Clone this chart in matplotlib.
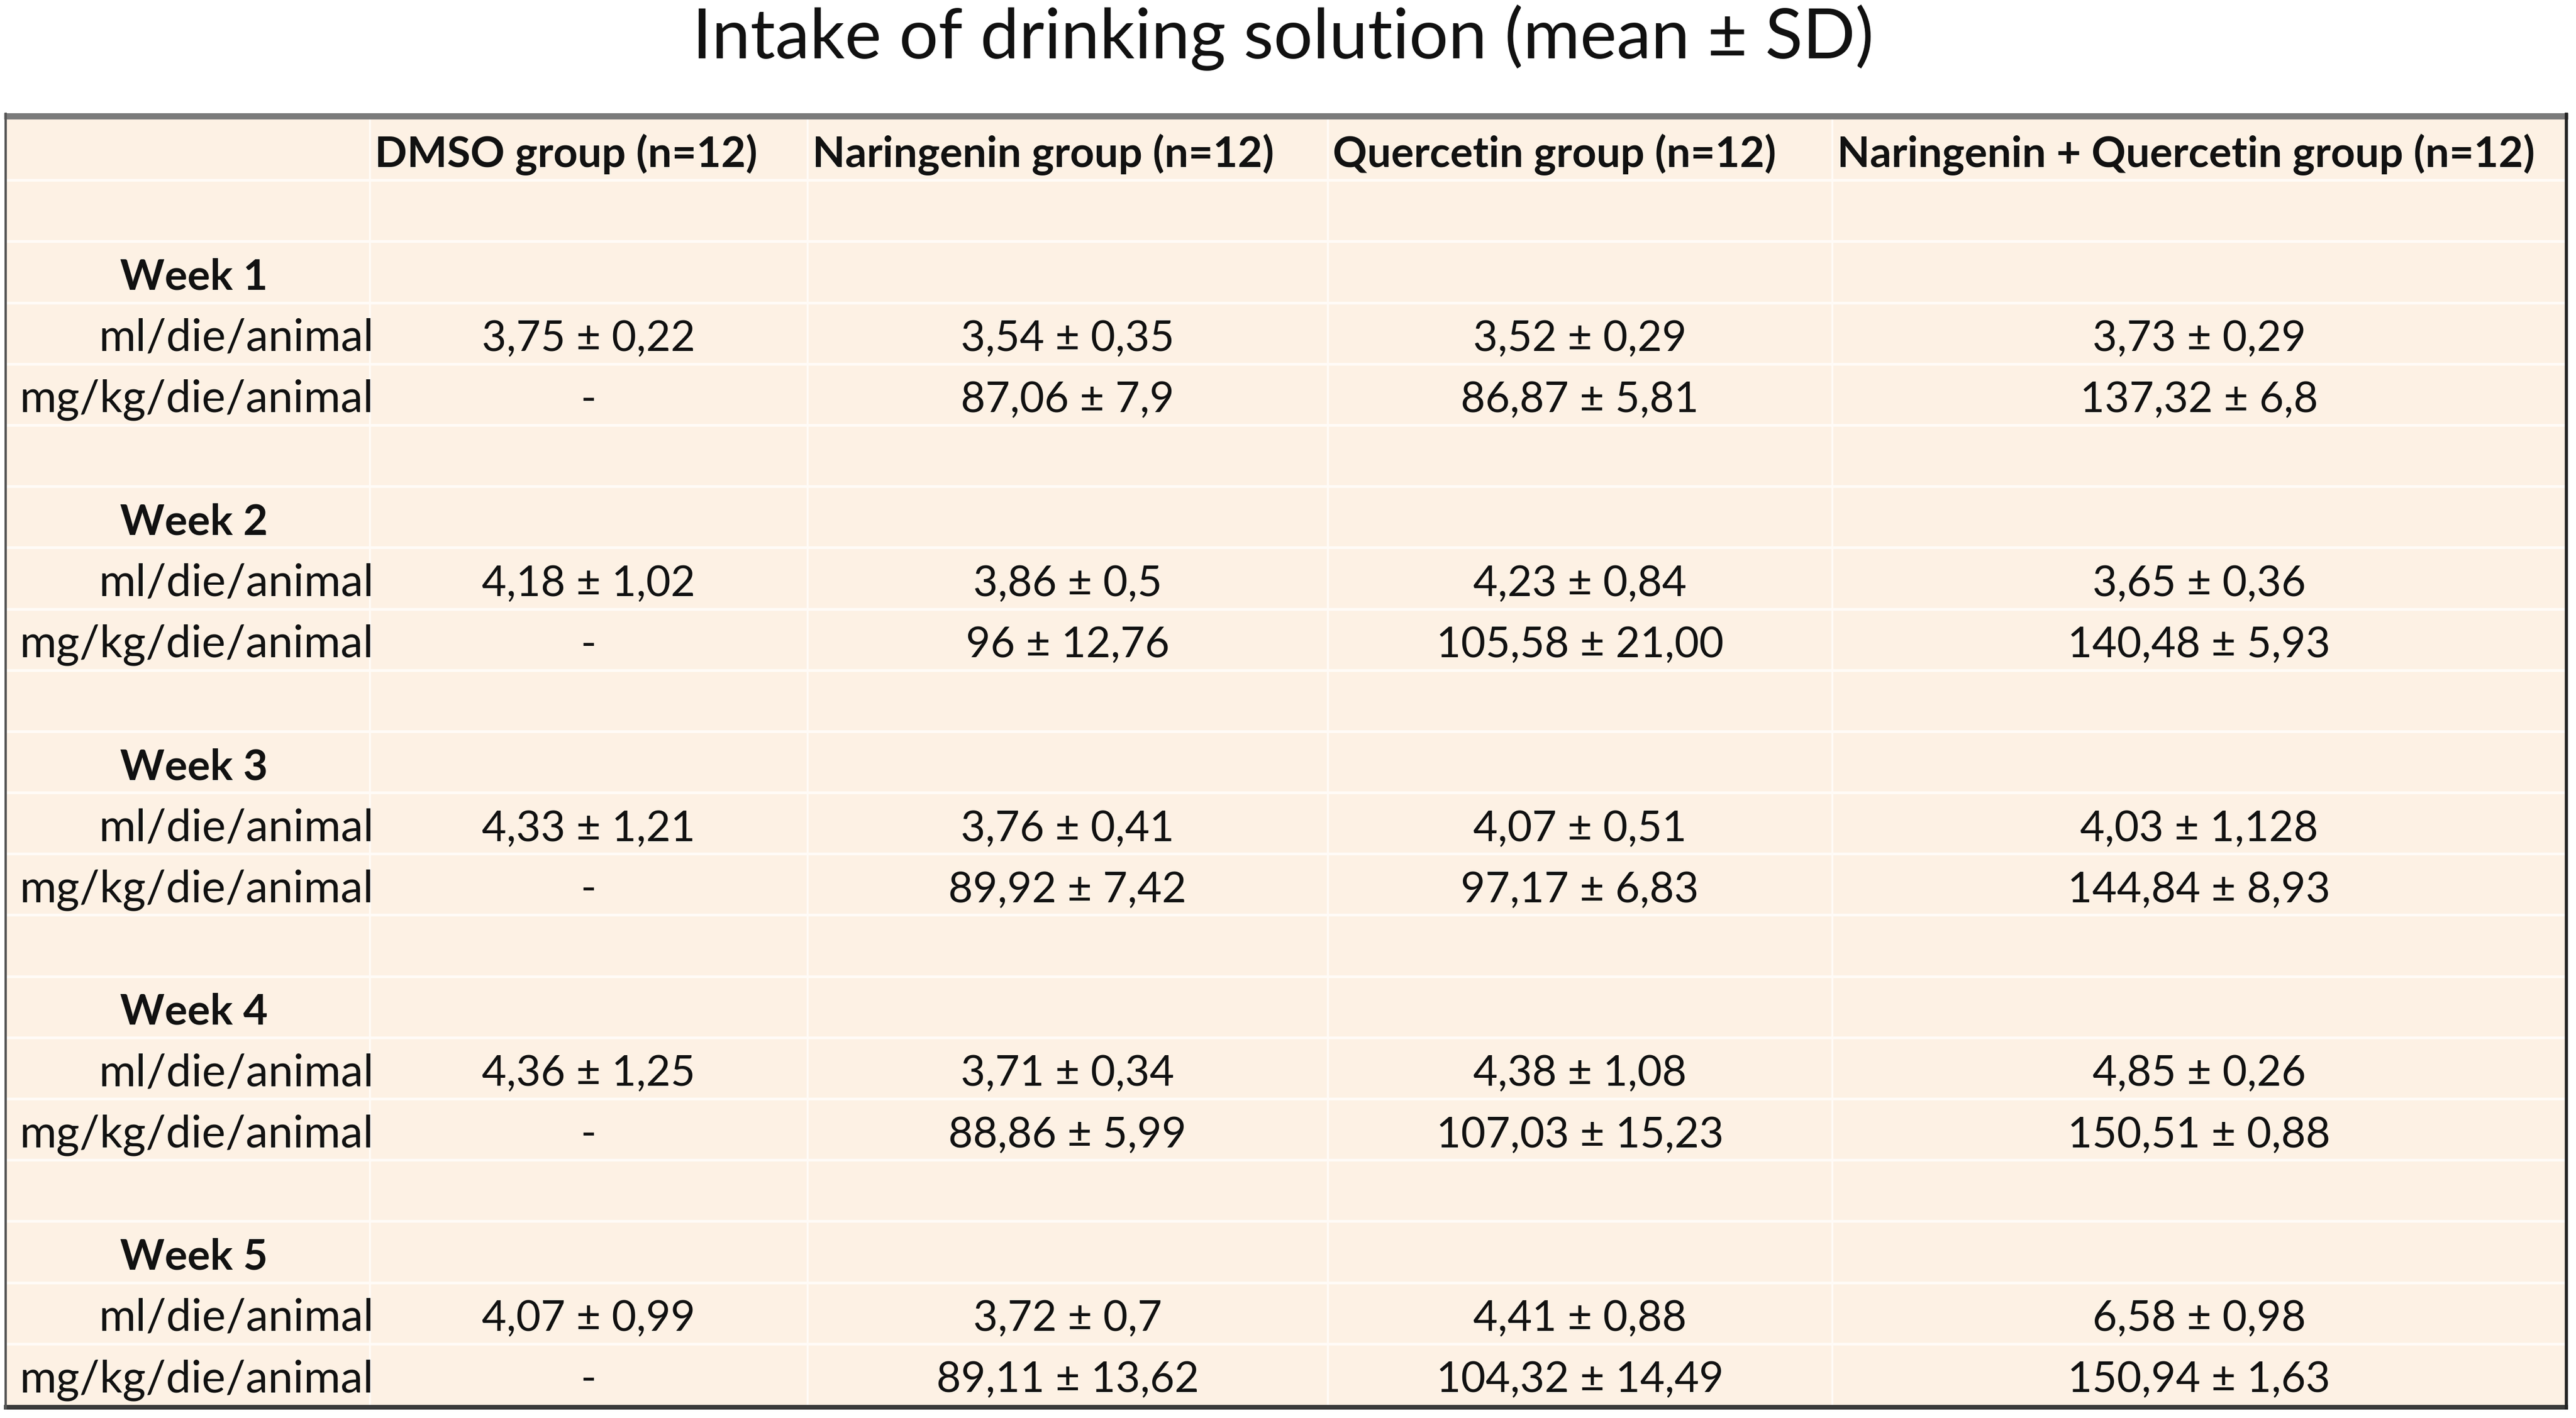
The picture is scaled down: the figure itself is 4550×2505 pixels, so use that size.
import matplotlib
matplotlib.use("Agg")
import matplotlib.pyplot as plt
from matplotlib.patches import Rectangle

plt.rcParams['font.family'] = ['Lato', 'DejaVu Sans']

# ---------------- data ----------------
title = "Intake of drinking solution (mean ± SD)"
groups = ["DMSO group (n=12)", "Naringenin group (n=12)",
          "Quercetin group (n=12)", "Naringenin + Quercetin group (n=12)"]
weeks = ["Week 1", "Week 2", "Week 3", "Week 4", "Week 5"]
row_units = ["ml/die/animal", "mg/kg/die/animal"]

ml_mean_dmso = ["3,75", "4,18", "4,33", "4,36", "4,07"]
ml_sd_dmso = ["0,22", "1,02", "1,21", "1,25", "0,99"]
ml_mean_nar = ["3,54", "3,86", "3,76", "3,71", "3,72"]
ml_sd_nar = ["0,35", "0,5", "0,41", "0,34", "0,7"]
ml_mean_que = ["3,52", "4,23", "4,07", "4,38", "4,41"]
ml_sd_que = ["0,29", "0,84", "0,51", "1,08", "0,88"]
ml_mean_nq = ["3,73", "3,65", "4,03", "4,85", "6,58"]
ml_sd_nq = ["0,29", "0,36", "1,128", "0,26", "0,98"]

mg_mean_dmso = [None, None, None, None, None]
mg_sd_dmso = [None, None, None, None, None]
mg_mean_nar = ["87,06", "96", "89,92", "88,86", "89,11"]
mg_sd_nar = ["7,9", "12,76", "7,42", "5,99", "13,62"]
mg_mean_que = ["86,87", "105,58", "97,17", "107,03", "104,32"]
mg_sd_que = ["5,81", "21,00", "6,83", "15,23", "14,49"]
mg_mean_nq = ["137,32", "140,48", "144,84", "150,51", "150,94"]
mg_sd_nq = ["6,8", "5,93", "8,93", "0,88", "1,63"]

ml_means = [ml_mean_dmso, ml_mean_nar, ml_mean_que, ml_mean_nq]
ml_sds = [ml_sd_dmso, ml_sd_nar, ml_sd_que, ml_sd_nq]
mg_means = [mg_mean_dmso, mg_mean_nar, mg_mean_que, mg_mean_nq]
mg_sds = [mg_sd_dmso, mg_sd_nar, mg_sd_que, mg_sd_nq]

# ---------------- layout ----------------
W, H = 4550, 2505
fig = plt.figure(figsize=(W / 100, H / 100), dpi=100)
ax = fig.add_axes([0, 0, 1, 1])
ax.set_xlim(0, W)
ax.set_ylim(H, 0)
ax.axis("off")

bg = "#FDF1E4"
grid_c = "#FFFBF7"
col_edges = [10, 653, 1426, 2345, 3236, 4533]
top = 210
n_rows = 21
row_h = (2482 - top) / n_rows
row_tops = [top + i * row_h for i in range(n_rows + 1)]

# background
ax.add_patch(Rectangle((col_edges[0], top), col_edges[-1] - col_edges[0],
                       row_tops[-1] - top, facecolor=bg, edgecolor="none", zorder=0))
# gridlines (white)
for y in row_tops[1:-1]:
    ax.plot([col_edges[0], col_edges[-1]], [y, y], color=grid_c, lw=3.5,
            solid_capstyle="butt", zorder=1)
for x in col_edges[1:-1]:
    ax.plot([x, x], [top, row_tops[-1]], color=grid_c, lw=2.5,
            solid_capstyle="butt", zorder=1)

# borders
ax.plot([col_edges[0] - 3, col_edges[-1] + 3], [204.5, 204.5], color="#7B7B7B", lw=8,
        solid_capstyle="butt", zorder=3)
ax.plot([col_edges[0] - 3, col_edges[-1] + 3], [2486, 2486], color="#3A3A3A", lw=6,
        solid_capstyle="butt", zorder=3)
ax.plot([col_edges[0], col_edges[0]], [199, 2490], color="#555555", lw=3,
        solid_capstyle="butt", zorder=3)
ax.plot([col_edges[-1], col_edges[-1]], [199, 2490], color="#222222", lw=4,
        solid_capstyle="butt", zorder=3)

# title
ax.text(2266, 103, title, ha="center", va="baseline", fontsize=88,
        color="#111111")

fs = 54
fs_lab = 57
base_off = 23  # baseline distance above row bottom


def baseline(r):
    return row_tops[r + 1] - base_off


# header
for j, g in enumerate(groups):
    ax.text(col_edges[j + 1] + 9, baseline(0), g, ha="left", va="baseline",
            fontsize=fs, fontweight="bold", color="#111111")

# body
for w, wk in enumerate(weeks):
    r_week = 2 + 4 * w
    r_ml = r_week + 1
    r_mg = r_week + 2
    ax.text(212, baseline(r_week), wk, ha="left", va="baseline", fontsize=fs,
            fontweight="bold", color="#111111")
    ax.text(660, baseline(r_ml), row_units[0], ha="right", va="baseline",
            fontsize=fs_lab, color="#111111")
    ax.text(660, baseline(r_mg), row_units[1], ha="right", va="baseline",
            fontsize=fs_lab, color="#111111")
    for j in range(4):
        cx = (col_edges[j + 1] + col_edges[j + 2]) / 2
        m, s = ml_means[j][w], ml_sds[j][w]
        ax.text(cx, baseline(r_ml), f"{m} ± {s}", ha="center", va="baseline",
                fontsize=fs, color="#111111")
        m2, s2 = mg_means[j][w], mg_sds[j][w]
        txt = "-" if m2 is None else f"{m2} ± {s2}"
        ax.text(cx, baseline(r_mg), txt, ha="center", va="baseline",
                fontsize=fs, color="#111111")

fig.savefig("out.png", dpi=100, facecolor="white")
